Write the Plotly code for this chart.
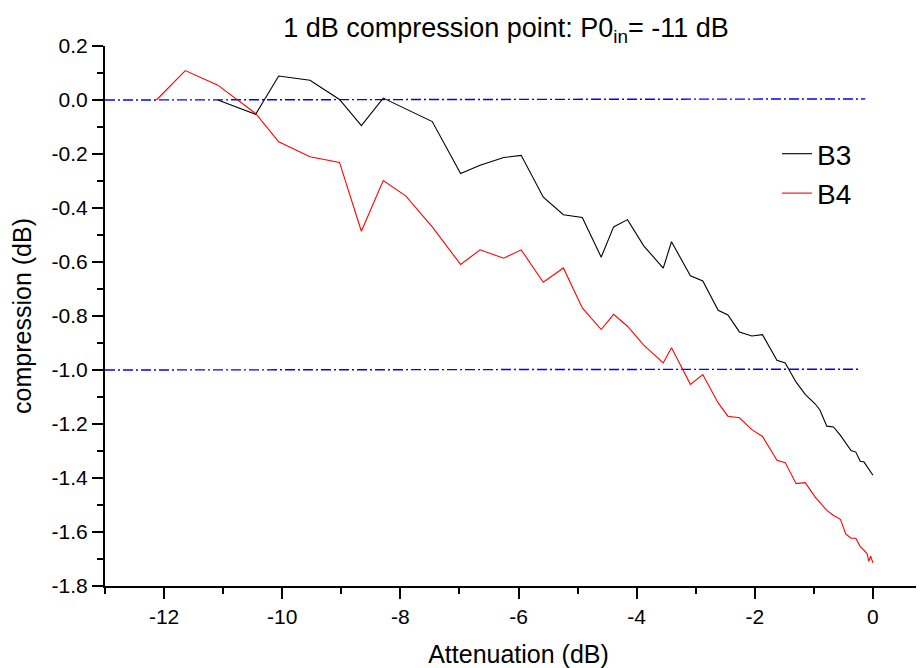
import plotly.graph_objects as go

# ---- data ----
atten = [-12.13, -11.64, -11.09, -10.45, -10.06, -9.53, -9.03, -8.66, -8.29, -7.91,
         -7.46, -6.98, -6.65, -6.25, -5.955, -5.58, -5.24, -4.92, -4.60, -4.39,
         -4.155, -3.88, -3.55, -3.41, -3.09, -2.88, -2.62, -2.455, -2.26, -2.05,
         -1.87, -1.625, -1.485, -1.30, -1.146, -0.98, -0.90, -0.78, -0.667, -0.55,
         -0.46, -0.37, -0.29, -0.215, -0.15, -0.10, -0.07, -0.04, 0.0]

b3 = [None, None, 0.0, -0.053, 0.089, 0.073, 0.002, -0.095, 0.007, -0.033,
      -0.080, -0.272, -0.242, -0.213, -0.205, -0.360, -0.425, -0.435, -0.582, -0.470,
      -0.443, -0.540, -0.623, -0.525, -0.651, -0.670, -0.779, -0.796, -0.859, -0.874,
      -0.869, -0.964, -0.974, -1.045, -1.090, -1.125, -1.147, -1.208, -1.211, -1.242,
      -1.270, -1.298, -1.304, -1.338, -1.341, -1.356, -1.365, -1.375, -1.390]

b4 = [0.0, 0.109, 0.055, -0.050, -0.155, -0.210, -0.231, -0.486, -0.298, -0.355,
      -0.470, -0.609, -0.555, -0.586, -0.555, -0.675, -0.622, -0.770, -0.850, -0.794,
      -0.838, -0.908, -0.974, -0.918, -1.053, -1.017, -1.122, -1.171, -1.177, -1.221,
      -1.246, -1.334, -1.343, -1.421, -1.417, -1.470, -1.490, -1.520, -1.539, -1.553,
      -1.607, -1.623, -1.623, -1.654, -1.668, -1.680, -1.709, -1.690, -1.714]

ref0_x = [-13.0, -0.13]
ref0_y = [0.0, 0.004]
ref1_x = [-13.0, -0.23]
ref1_y = [-1.0, -0.997]

x_ticks = [-12, -10, -8, -6, -4, -2, 0]
y_ticks = [0.2, 0.0, -0.2, -0.4, -0.6, -0.8, -1.0, -1.2, -1.4, -1.6, -1.8]

FONT = "Arial, 'Liberation Sans', Helvetica, sans-serif"

# layout geometry (figure pixels)
L, T, B, R = 97, 38, 90, 0
W, H = 924, 668
PW, PH = W - L - R, H - T - B

fig = go.Figure()
fig.add_trace(go.Scatter(x=ref0_x, y=ref0_y, mode="lines", showlegend=False,
                         line=dict(color="#0000ff", width=1.4, dash="10px,3px,2px,3px"),
                         hoverinfo="skip"))
fig.add_trace(go.Scatter(x=ref1_x, y=ref1_y, mode="lines", showlegend=False,
                         line=dict(color="#0000ff", width=1.4, dash="10px,3px,2px,3px"),
                         hoverinfo="skip"))
fig.add_trace(go.Scatter(x=atten, y=b3, mode="lines", name="B3",
                         line=dict(color="black", width=1.1)))
fig.add_trace(go.Scatter(x=atten, y=b4, mode="lines", name="B4",
                         line=dict(color="#ff0000", width=1.1)))

fig.update_layout(
    width=W, height=H,
    margin=dict(l=L, r=R, t=T, b=B),
    paper_bgcolor="white", plot_bgcolor="white",
    font=dict(family=FONT, color="black", size=21),
    title=dict(text="1 dB compression point: P0<sub>in</sub>= -11 dB",
               x=498 / W, xref="container", xanchor="center",
               y=1 - 20 / H, yref="container", yanchor="middle",
               font=dict(size=27, family=FONT, color="black")),
    showlegend=True,
    legend=dict(x=(769 - L) / PW, y=1 - (121 - T) / PH, xanchor="left", yanchor="top",
                font=dict(size=28, family=FONT, color="black"),
                bgcolor="rgba(0,0,0,0)", borderwidth=0, itemwidth=30),
    xaxis=dict(range=[-13, 1], tickmode="array", tickvals=x_ticks,
               ticktext=[str(v) for v in x_ticks],
               showgrid=False, zeroline=False, showline=True, linecolor="black", linewidth=2,
               ticks="outside", ticklen=11, tickwidth=2, tickcolor="black",
               minor=dict(dtick=1, tick0=0, ticks="outside", ticklen=6, tickwidth=2,
                          tickcolor="black", showgrid=False),
               tickfont=dict(size=21),
               title=dict(text="Attenuation (dB)", font=dict(size=25), standoff=18)),
    yaxis=dict(range=[-1.8, 0.2], tickmode="array", tickvals=y_ticks,
               ticktext=[f"{v:.1f}" for v in y_ticks],
               showgrid=False, zeroline=False, showline=True, linecolor="black", linewidth=2,
               ticks="outside", ticklen=11, tickwidth=2, tickcolor="black",
               minor=dict(dtick=0.1, tick0=0, ticks="outside", ticklen=6, tickwidth=2,
                          tickcolor="black", showgrid=False),
               tickfont=dict(size=21),
               title=dict(text="compression (dB)", font=dict(size=25), standoff=16)),
)

fig.write_html("out.html")
